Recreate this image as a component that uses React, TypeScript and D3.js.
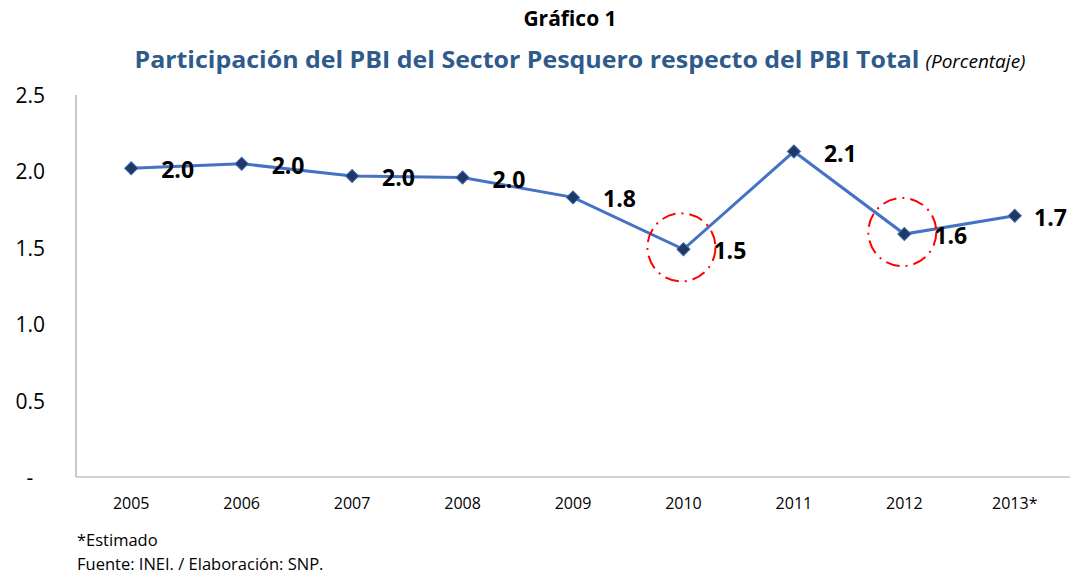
import React from "react";
import * as d3 from "d3";

const years = ["2005", "2006", "2007", "2008", "2009", "2010", "2011", "2012", "2013*"];
const values = [2.02, 2.05, 1.97, 1.96, 1.83, 1.49, 2.13, 1.59, 1.71];
const labels = ["2.0", "2.0", "2.0", "2.0", "1.8", "1.5", "2.1", "1.6", "1.7"];
const yTicks = [0, 0.5, 1.0, 1.5, 2.0, 2.5];
const highlighted = ["2010", "2012"];

const W = 1072;
const H = 575;
const FONT = "'Open Sans', 'Noto Sans', sans-serif";

export default function App() {
  const x = d3.scaleBand<string>().domain(years).range([76, 1070]);
  const y = d3.scaleLinear().domain([0, 2.5]).range([477, 95]);
  const cx = (d: string) => (x(d) as number) + x.bandwidth() / 2;
  const line = d3
    .line<number>()
    .x((_, i) => cx(years[i]))
    .y((v) => y(v));
  const diamond = d3.symbol().type(d3.symbolSquare).size(85)();

  return (
    <svg width={W} height={H} style={{ position: "absolute", left: 0, top: 0, background: "#fff" }}>
      <rect width={W} height={H} fill="#fff" />
      <text x={570} y={26} textAnchor="middle" fontFamily={FONT} fontWeight="bold" fontSize={21} fill="#000">
        Gráfico 1
      </text>
      <text x={580} y={68} textAnchor="middle" fontFamily={FONT} fontSize={23}>
        <tspan fontWeight="bold" fill="#2E5B8C" textLength={785} lengthAdjust="spacingAndGlyphs">
          Participación del PBI del Sector Pesquero respecto del PBI Total
        </tspan>
        <tspan fontStyle="italic" fontSize={19} fill="#000" dx={6}>(Porcentaje)</tspan>
      </text>

      {/* axes */}
      <line x1={76} x2={76} y1={y(2.5)} y2={y(0)} stroke="#A6A6A6" strokeWidth={1.2} />
      <line x1={76} x2={1070} y1={y(0)} y2={y(0)} stroke="#A6A6A6" strokeWidth={1.2} />

      {yTicks.map((t) => (
        <text
          key={t}
          x={t === 0 ? 30 : 45}
          y={y(t) + 8}
          textAnchor={t === 0 ? "middle" : "end"}
          fontFamily={FONT}
          fontSize={21}
          fill="#000"
        >
          {t === 0 ? "-" : t.toFixed(1)}
        </text>
      ))}

      {years.map((yr) => (
        <text key={yr} x={cx(yr)} y={509} textAnchor="middle" fontFamily={FONT} fontSize={16} fill="#000">
          {yr}
        </text>
      ))}

      <path d={line(values) || ""} fill="none" stroke="#4472C4" strokeWidth={3} />

      {highlighted.map((yr) => {
        const i = years.indexOf(yr);
        return (
          <circle
            key={yr}
            cx={cx(yr) - 2}
            cy={y(values[i]) - 2}
            r={34}
            fill="none"
            stroke="#FF0000"
            strokeWidth={2}
            strokeDasharray="14 6 2 6"
          />
        );
      })}

      {values.map((v, i) => (
        <path
          key={i}
          d={diamond || ""}
          transform={`translate(${cx(years[i])},${y(v)}) rotate(45)`}
          fill="#1F3864"
          stroke="#3A64B0"
          strokeWidth={1}
        />
      ))}

      {values.map((v, i) => (
        <text
          key={"l" + i}
          x={Math.min(cx(years[i]) + 30, 1034)}
          y={y(v) + 10}
          fontFamily={FONT}
          fontWeight="bold"
          fontSize={23}
          fill="#000"
        >
          {labels[i]}
        </text>
      ))}

      <text x={77} y={546} fontFamily={FONT} fontSize={16.5} fill="#000">
        *Estimado
      </text>
      <text x={77} y={570} fontFamily={FONT} fontSize={16.5} fill="#000">
        Fuente: INEI. / Elaboración: SNP.
      </text>
    </svg>
  );
}
